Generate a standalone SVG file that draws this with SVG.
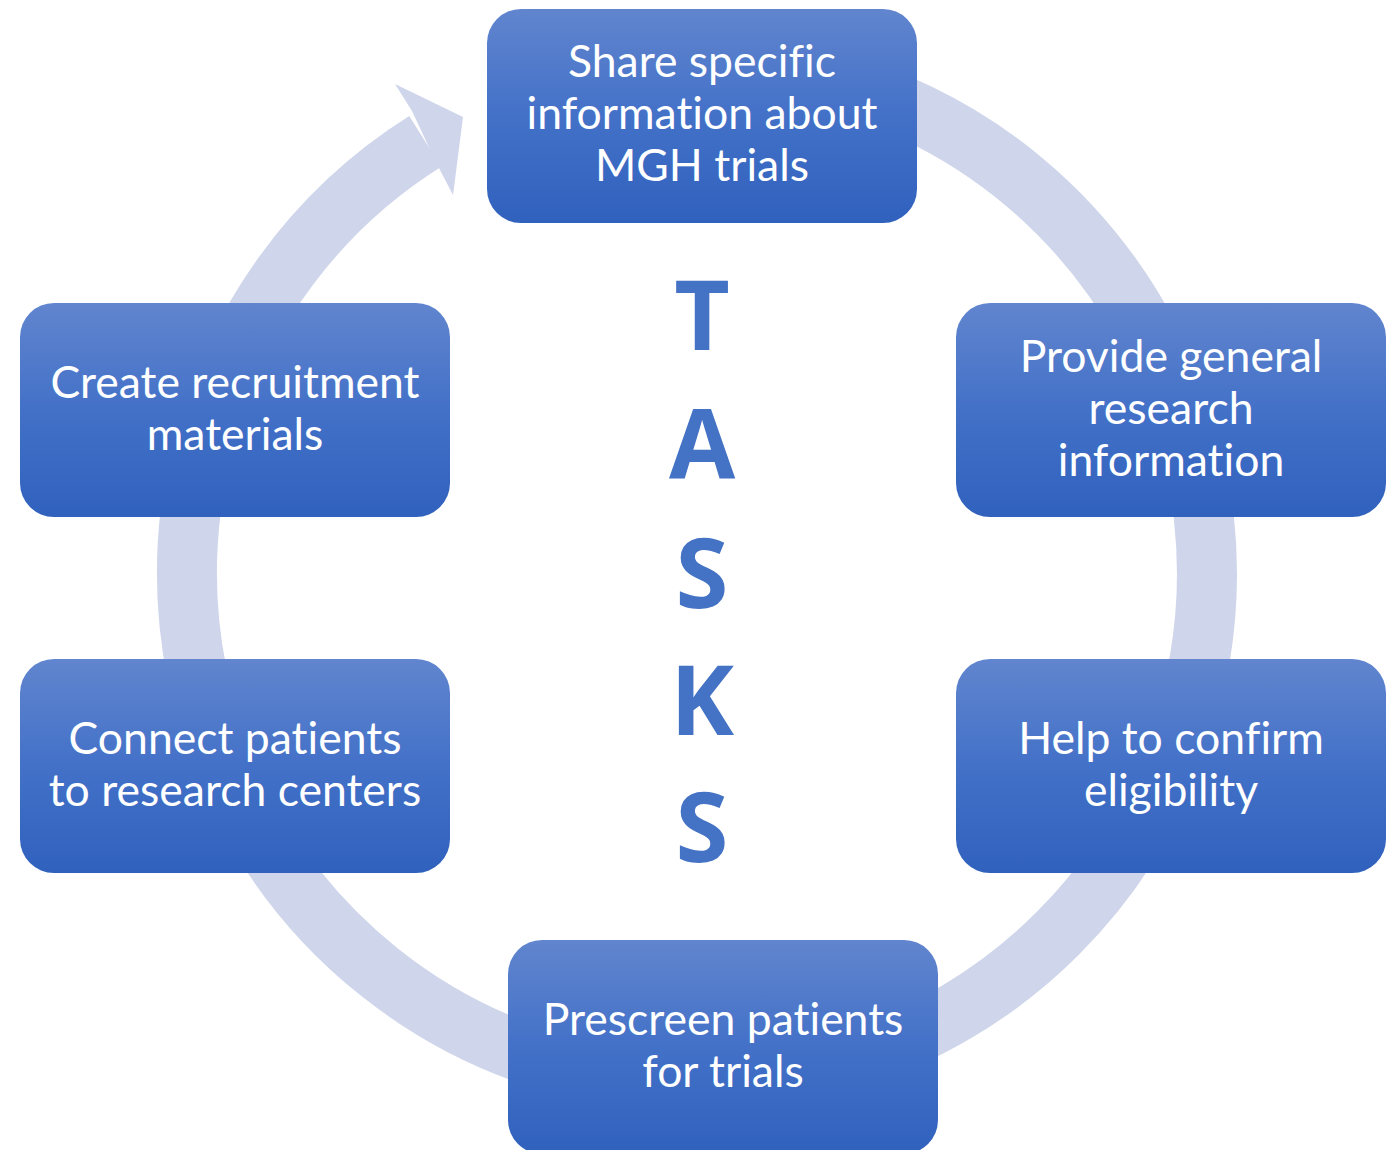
<svg xmlns="http://www.w3.org/2000/svg" width="1394" height="1150" viewBox="0 0 1394 1150">
<defs>
<linearGradient id="g" x1="0" y1="0" x2="0" y2="1">
<stop offset="0" stop-color="#6185CE"/>
<stop offset="0.5" stop-color="#4371C8"/>
<stop offset="1" stop-color="#3061BD"/>
</linearGradient>
<style>
.box{fill:url(#g);}
.t{font-family:Lato,"Liberation Sans",sans-serif;font-size:44.5px;fill:#fff;text-anchor:middle;font-variant-ligatures:none;}
.big{font-family:"Open Sans","Liberation Sans",sans-serif;font-weight:bold;font-size:96px;fill:#4472C4;text-anchor:middle;}
</style>
</defs>
<rect width="1394" height="1150" fill="#fff"/>
<g id="connectors">
<path d="M425.2 141.4 A510 510 0 1 0 697 63" fill="none" stroke="#CFD5EA" stroke-width="60"/>
<polygon points="412,111 395,84 463,117 453,195 440,170 426,141" fill="#CFD5EA"/>
</g>
<g id="tasks">
<text class="big" x="702" y="350">T</text>
<text class="big" x="702" y="479">A</text>
<text class="big" x="702" y="608">S</text>
<text class="big" x="702" y="735">K</text>
<text class="big" x="702" y="862">S</text>
</g>
<g id="n1"><rect class="box" x="487" y="9" width="430" height="214" rx="34"/>
<text class="t" x="702" y="77">Share specific</text><text class="t" x="702" y="129">information about</text><text class="t" x="702" y="181">MGH trials</text></g>
<g id="n2"><rect class="box" x="956" y="303" width="430" height="214" rx="34"/>
<text class="t" x="1171" y="372">Provide general</text><text class="t" x="1171" y="424">research</text><text class="t" x="1171" y="476">information</text></g>
<g id="n3"><rect class="box" x="956" y="659" width="430" height="214" rx="34"/>
<text class="t" x="1171" y="754">Help to confirm</text><text class="t" x="1171" y="806">eligibility</text></g>
<g id="n4"><rect class="box" x="508" y="940" width="430" height="214" rx="34"/>
<text class="t" x="723" y="1035">Prescreen patients</text><text class="t" x="723" y="1087">for trials</text></g>
<g id="n5"><rect class="box" x="20" y="659" width="430" height="214" rx="34"/>
<text class="t" x="235" y="754">Connect patients</text><text class="t" x="235" y="806">to research centers</text></g>
<g id="n6"><rect class="box" x="20" y="303" width="430" height="214" rx="34"/>
<text class="t" x="235" y="398">Create recruitment</text><text class="t" x="235" y="450">materials</text></g>
</svg>
